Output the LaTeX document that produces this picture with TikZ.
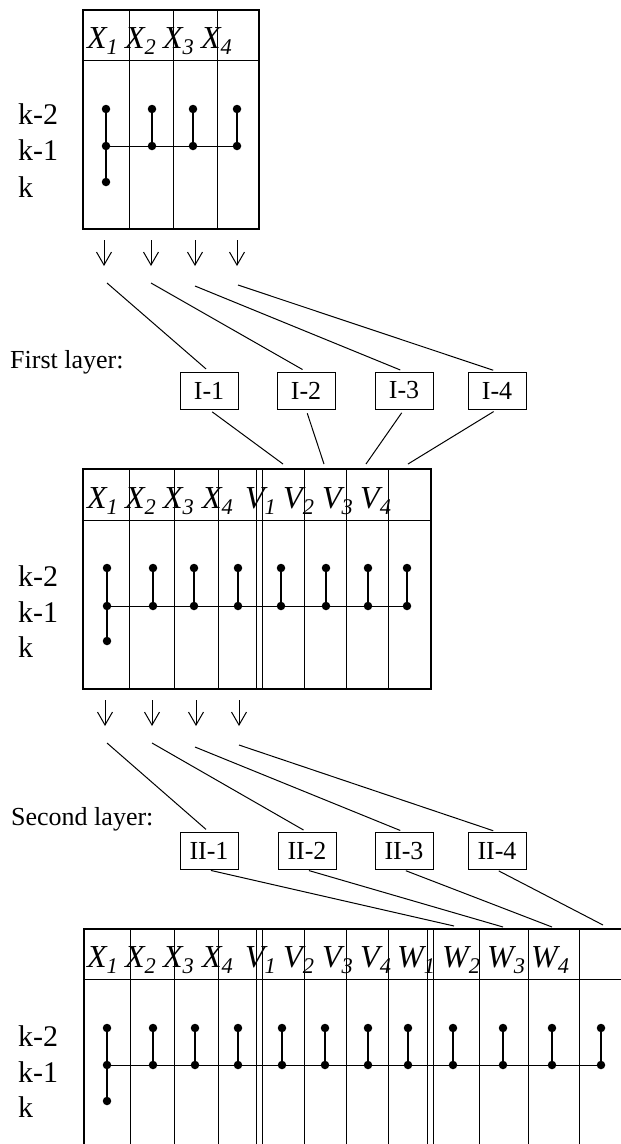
\documentclass[tikz,border=0pt]{standalone}
\usepackage{fontspec}
\setmainfont{Liberation Serif}
\usetikzlibrary{arrows.meta}
\begin{document}
\begin{tikzpicture}[x=1pt,y=-1pt]
\tikzset{
 thinln/.style={line width=0.9pt},
 frame/.style={line width=1.8pt},
 pt/.style={circle,fill=black,inner sep=0pt,minimum size=8.5pt},
 stem/.style={line width=1.4pt},
 hdr/.style={anchor=base west,inner sep=0pt,font=\fontsize{32}{32}\selectfont\itshape},
 klab/.style={anchor=base west,inner sep=0pt,font=\fontsize{30}{30}\selectfont},
 layerbox/.style={draw,line width=1pt,minimum width=58pt,minimum height=37pt,inner sep=0pt,font=\fontsize{26}{26}\selectfont},
 laylab/.style={anchor=base west,inner sep=0pt,font=\fontsize{26}{26}\selectfont},
 darrow/.style={-{Straight Barb[length=13pt,width=15pt]},line width=1pt},
 link/.style={line width=1pt},
}
\useasboundingbox (0,0) rectangle (621,1144);

% ---------- Box 1 ----------
\draw[frame] (83,10) rectangle (259,229);
\draw[thinln] (83,60) -- (259,60);
\foreach \x in {129,173,217} \draw[thinln] (\x,10) -- (\x,229);
\foreach \x/\t [count=\i] in {87/X\textsubscript{1},125/X\textsubscript{2},163/X\textsubscript{3},201/X\textsubscript{4}}
  \node[hdr] (ha\i) at (\x,48) {\t};
\node[klab] (ka1) at (18,124) {k-2};
\node[klab] (ka2) at (18,160) {k-1};
\node[klab] (ka3) at (18,197) {k};
\foreach \x [count=\i] in {106,152,193,237} {
  \node[pt] (at\i) at (\x,109) {};
  \node[pt] (am\i) at (\x,146) {};
  \draw[stem] (at\i) -- (am\i);
}
\node[pt] (ab1) at (106,182) {};
\draw[stem] (am1) -- (ab1);
\draw[thinln] (am1) -- (am4);

% ---------- arrows 1 ----------
\foreach \x [count=\i] in {104,151,195,237} {
  \coordinate (ua\i) at (\x,240);
  \coordinate (va\i) at (\x,266);
  \draw[darrow] (ua\i) -- (va\i);
}
\coordinate (sa1) at (107,283);
\coordinate (sa2) at (151,283);
\coordinate (sa3) at (195,286);
\coordinate (sa4) at (238,285);

\node[laylab] (first) at (10,368) {First layer:};
\node[layerbox] (I1) at (209,390.5) {I-1};
\node[layerbox] (I2) at (306,390.5) {I-2};
\node[layerbox] (I3) at (404,390.5) {I-3};
\node[layerbox] (I4) at (497,390.5) {I-4};
\foreach \i in {1,2,3,4} \draw[link,shorten >=4pt] (sa\i) -- (I\i.north);

\coordinate (ea1) at (283,464);
\coordinate (ea2) at (324,464);
\coordinate (ea3) at (366,464);
\coordinate (ea4) at (408,464);
\foreach \i in {1,2,3,4} \draw[link,shorten <=4pt] (I\i.south) -- (ea\i);

% ---------- Box 2 ----------
\draw[frame] (83,469) rectangle (431,689);
\draw[thinln] (83,520) -- (431,520);
\foreach \x in {129,174,218,256,262,304,346,388} \draw[thinln] (\x,469) -- (\x,689);
\foreach \x/\t [count=\i] in {87/X\textsubscript{1},125/X\textsubscript{2},163/X\textsubscript{3},202/X\textsubscript{4},245/V\textsubscript{1},283/V\textsubscript{2},322/V\textsubscript{3},360/V\textsubscript{4}}
  \node[hdr] (hb\i) at (\x,508) {\t};
\node[klab] (kb1) at (18,586) {k-2};
\node[klab] (kb2) at (18,622) {k-1};
\node[klab] (kb3) at (18,657) {k};
\foreach \x [count=\i] in {107,153,194,238,281,326,368,407} {
  \node[pt] (bt\i) at (\x,568) {};
  \node[pt] (bm\i) at (\x,606) {};
  \draw[stem] (bt\i) -- (bm\i);
}
\node[pt] (bb1) at (107,641) {};
\draw[stem] (bm1) -- (bb1);
\draw[thinln] (bm1) -- (bm8);

% ---------- arrows 2 ----------
\foreach \x [count=\i] in {105,152,196,239} {
  \coordinate (ub\i) at (\x,700);
  \coordinate (vb\i) at (\x,726);
  \draw[darrow] (ub\i) -- (vb\i);
}
\coordinate (sb1) at (107,743);
\coordinate (sb2) at (152,743);
\coordinate (sb3) at (195,747);
\coordinate (sb4) at (239,745);

\node[laylab] (second) at (11,825) {Second layer:};
\node[layerbox] (II1) at (209,851) {II-1};
\node[layerbox] (II2) at (307,851) {II-2};
\node[layerbox] (II3) at (404,851) {II-3};
\node[layerbox] (II4) at (497,851) {II-4};
\foreach \i in {1,2,3,4} \draw[link,shorten >=4pt] (sb\i) -- (II\i.north);

\coordinate (eb1) at (454,926);
\coordinate (eb2) at (503,927);
\coordinate (eb3) at (552,927);
\coordinate (eb4) at (603,925);
\foreach \i in {1,2,3,4} \draw[link,shorten <=2pt] (II\i.south) -- (eb\i);

% ---------- Box 3 ----------
\draw[frame] (621,929) -- (84,929) -- (84,1144);
\draw[thinln] (84,979) -- (621,979);
\foreach \x in {130,174,218,256,262,304,346,388,427,433,479,528,579} \draw[thinln] (\x,929) -- (\x,1144);
\foreach \x/\t [count=\i] in {87/X\textsubscript{1},125/X\textsubscript{2},163/X\textsubscript{3},202/X\textsubscript{4},245/V\textsubscript{1},283/V\textsubscript{2},322/V\textsubscript{3},360/V\textsubscript{4},397/W\textsubscript{1},442/W\textsubscript{2},487/W\textsubscript{3},531/W\textsubscript{4}}
  \node[hdr] (hc\i) at (\x,967) {\t};
\node[klab] (kc1) at (18,1046) {k-2};
\node[klab] (kc2) at (18,1082) {k-1};
\node[klab] (kc3) at (18,1117) {k};
\foreach \x [count=\i] in {107,153,195,238,282,325,368,408,453,503,552,601} {
  \node[pt] (ct\i) at (\x,1028) {};
  \node[pt] (cm\i) at (\x,1065) {};
  \draw[stem] (ct\i) -- (cm\i);
}
\node[pt] (cb1) at (107,1101) {};
\draw[stem] (cm1) -- (cb1);
\draw[thinln] (cm1) -- (cm12);
\end{tikzpicture}
\end{document}
